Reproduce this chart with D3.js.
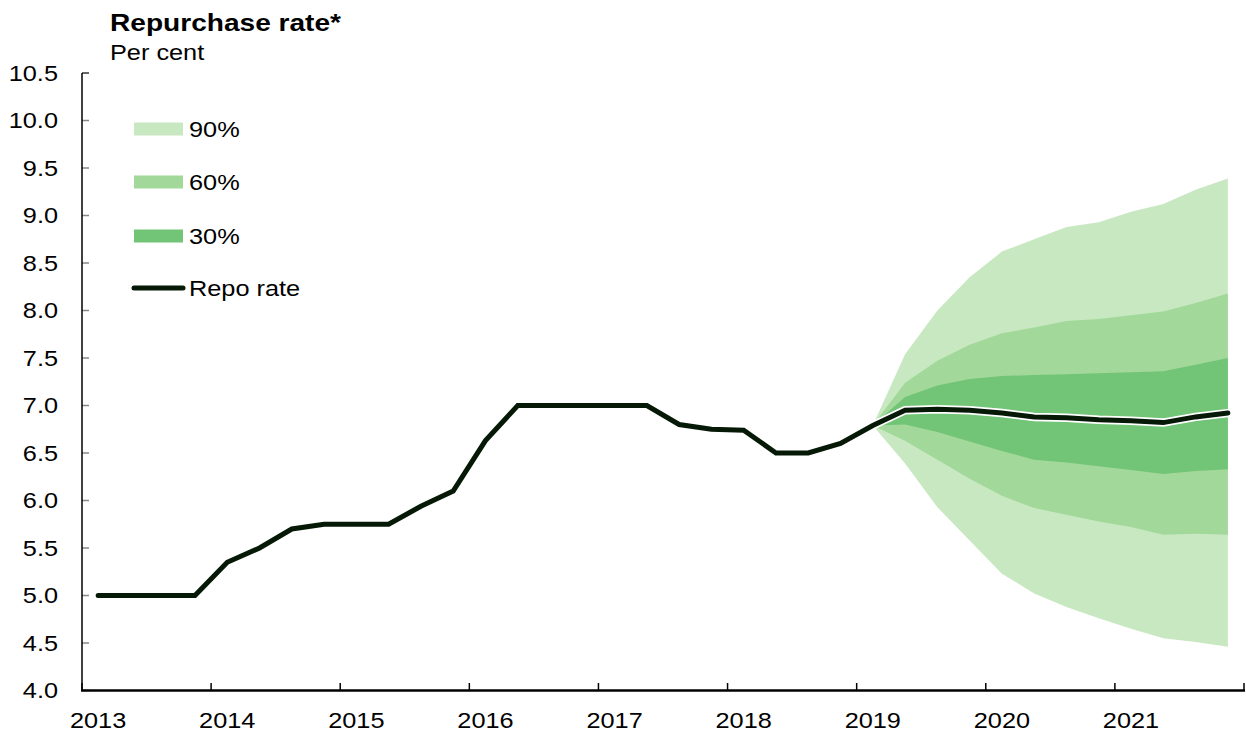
<!DOCTYPE html>
<html>
<head>
<meta charset="utf-8">
<script src="https://cdn.jsdelivr.net/npm/d3@7"></script>
<style>
  html, body { margin: 0; padding: 0; background: #fff; }
  svg { display: block; font-family: "Liberation Sans", Arial, sans-serif; }
</style>
</head>
<body>
<div id="chart"></div>
<script>
// quarterly data, 2013Q1 .. 2021Q4
const years = [2013, 2014, 2015, 2016, 2017, 2018, 2019, 2020, 2021];
const quarters = years.flatMap(y => [1, 2, 3, 4].map(q => ({ year: y, q })));

const repo = [
  5.00, 5.00, 5.00, 5.00,
  5.35, 5.50, 5.70, 5.75,
  5.75, 5.75, 5.94, 6.10,
  6.63, 7.00, 7.00, 7.00,
  7.00, 7.00, 6.80, 6.75,
  6.74, 6.50, 6.50, 6.60,
  6.79, 6.95, 6.96, 6.95,
  6.92, 6.88, 6.87, 6.85,
  6.84, 6.82, 6.88, 6.92
];

// fan starts at 2019Q1 (index 24)
const fanStart = 24;
const band90Hi = [6.79, 7.54, 8.00, 8.35, 8.62, 8.75, 8.88, 8.93, 9.04, 9.12, 9.27, 9.39];
const band60Hi = [6.79, 7.24, 7.47, 7.64, 7.76, 7.82, 7.89, 7.91, 7.95, 7.99, 8.08, 8.18];
const band30Hi = [6.79, 7.09, 7.21, 7.28, 7.31, 7.32, 7.33, 7.34, 7.35, 7.36, 7.43, 7.50];
const band30Lo = [6.79, 6.80, 6.72, 6.62, 6.52, 6.43, 6.40, 6.36, 6.32, 6.28, 6.31, 6.33];
const band60Lo = [6.79, 6.63, 6.43, 6.23, 6.05, 5.92, 5.85, 5.78, 5.72, 5.64, 5.65, 5.64];
const band90Lo = [6.79, 6.39, 5.93, 5.58, 5.23, 5.02, 4.88, 4.76, 4.65, 4.55, 4.51, 4.46];

const yTicks = [4.0, 4.5, 5.0, 5.5, 6.0, 6.5, 7.0, 7.5, 8.0, 8.5, 9.0, 9.5, 10.0, 10.5];
const legendItems = ["90%", "60%", "30%", "Repo rate"];

const width = 1246, height = 736;
const bandColors = { "90%": "#c8e8c1", "60%": "#a2d89a", "30%": "#72c476" };
const lineColor = "#061906";

const svg = d3.select("#chart").append("svg")
  .attr("width", width)
  .attr("height", height);

const x = d3.scaleLinear().domain([2013, 2022]).range([82, 1244]);
const y = d3.scaleLinear().domain([4, 10.5]).range([690.5, 73]);
const qx = d => x(d.year + (d.q - 0.5) / 4);

// reference text is drawn a little wide
const widen = (sel, k = 1.15) => sel.each(function() {
  const w = this.getComputedTextLength();
  d3.select(this).attr("textLength", w * k).attr("lengthAdjust", "spacingAndGlyphs");
});

// fan bands
const fanQ = quarters.slice(fanStart);
const bands = [
  { key: "90%", lo: band90Lo, hi: band90Hi },
  { key: "60%", lo: band60Lo, hi: band60Hi },
  { key: "30%", lo: band30Lo, hi: band30Hi }
];
const area = d3.area()
  .x((d, i) => qx(fanQ[i]))
  .y0(d => y(d[0]))
  .y1(d => y(d[1]));

svg.append("g").selectAll("path")
  .data(bands)
  .join("path")
  .attr("fill", d => bandColors[d.key])
  .attr("d", d => area(d.lo.map((v, i) => [v, d.hi[i]])));

// repo line with white halo
const line = d3.line()
  .x((d, i) => qx(quarters[i]))
  .y(d => y(d));

svg.append("path")
  .attr("d", line(repo))
  .attr("fill", "none")
  .attr("stroke", "#fff")
  .attr("stroke-width", 8.5)
  .attr("stroke-linecap", "round");

svg.append("path")
  .attr("d", line(repo))
  .attr("fill", "none")
  .attr("stroke", lineColor)
  .attr("stroke-width", 5)
  .attr("stroke-linecap", "round");

// y axis
const yAxis = svg.append("g");
yAxis.selectAll("line.tick")
  .data(yTicks)
  .join("line")
  .attr("class", "tick")
  .attr("x1", 82).attr("x2", 89)
  .attr("y1", d => y(d)).attr("y2", d => y(d))
  .attr("stroke", d => d === 10.5 ? "#333" : "#888")
  .attr("stroke-width", 1.5);
yAxis.append("line")
  .attr("x1", 82).attr("x2", 82)
  .attr("y1", y(10.5)).attr("y2", y(4))
  .attr("stroke", "#000")
  .attr("stroke-width", 1.5);
yAxis.selectAll("text")
  .data(yTicks)
  .join("text")
  .attr("x", 58)
  .attr("y", d => y(d))
  .attr("dy", "0.36em")
  .attr("text-anchor", "end")
  .attr("font-size", 22)
  .attr("fill", "#000")
  .text(d => d.toFixed(1))
  .call(widen);

// x axis
const xAxis = svg.append("g");
xAxis.selectAll("line")
  .data(d3.range(2013, 2023))
  .join("line")
  .attr("x1", d => x(d)).attr("x2", d => x(d))
  .attr("y1", 690.5).attr("y2", 683)
  .attr("stroke", "#000")
  .attr("stroke-width", 1.5);
xAxis.append("line")
  .attr("x1", x(2013) - 1).attr("x2", x(2022) + 1)
  .attr("y1", 690.5).attr("y2", 690.5)
  .attr("stroke", "#000")
  .attr("stroke-width", 2.5);
xAxis.selectAll("text")
  .data(years)
  .join("text")
  .attr("x", d => x(d + 0.125))
  .attr("y", 728)
  .attr("text-anchor", "middle")
  .attr("font-size", 22)
  .attr("fill", "#000")
  .text(d => d)
  .call(widen);

// title
svg.append("text")
  .attr("x", 110).attr("y", 31)
  .attr("font-size", 24)
  .attr("font-weight", "bold")
  .text("Repurchase rate*")
  .call(widen, 1.17);
svg.append("text")
  .attr("x", 110).attr("y", 60)
  .attr("font-size", 22)
  .text("Per cent")
  .call(widen);

// legend
const legend = svg.append("g");
const legY = [129, 182, 236, 288];
legendItems.forEach((k, i) => {
  if (bandColors[k]) {
    legend.append("rect")
      .attr("x", 134).attr("y", legY[i] - 6.5)
      .attr("width", 49).attr("height", 13)
      .attr("fill", bandColors[k]);
  } else {
    legend.append("line")
      .attr("x1", 134).attr("x2", 183)
      .attr("y1", legY[i]).attr("y2", legY[i])
      .attr("stroke", lineColor)
      .attr("stroke-width", 5)
      .attr("stroke-linecap", "round");
  }
  legend.append("text")
    .attr("x", 189).attr("y", legY[i])
    .attr("dy", "0.36em")
    .attr("font-size", 22)
    .text(k)
    .call(widen);
});
</script>
</body>
</html>
